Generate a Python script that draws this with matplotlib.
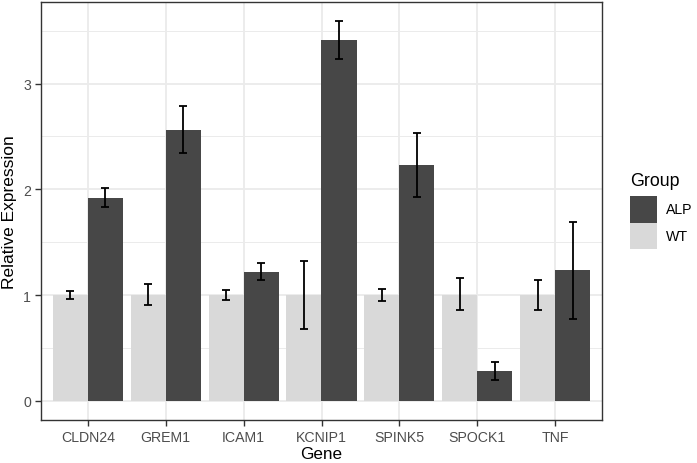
import matplotlib.pyplot as plt
from matplotlib.patches import Rectangle
import numpy as np

plt.rcParams['font.family'] = ['Liberation Sans', 'DejaVu Sans']

genes = ['CLDN24', 'GREM1', 'ICAM1', 'KCNIP1', 'SPINK5', 'SPOCK1', 'TNF']
wt_mean = [1.0, 1.0, 1.0, 1.0, 1.0, 1.0, 1.0]
wt_lo = [0.96, 0.91, 0.95, 0.68, 0.94, 0.86, 0.86]
wt_hi = [1.04, 1.10, 1.05, 1.32, 1.06, 1.16, 1.14]
alp_mean = [1.92, 2.56, 1.22, 3.415, 2.23, 0.28, 1.236]
alp_lo = [1.83, 2.34, 1.14, 3.23, 1.93, 0.20, 0.77]
alp_hi = [2.01, 2.79, 1.30, 3.59, 2.53, 0.37, 1.69]
groups = ['ALP', 'WT']
colors = {'ALP': '#474747', 'WT': '#D9D9D9'}

W, H = 697, 464
fig = plt.figure(figsize=(W / 100, H / 100), dpi=100)
ax = fig.add_axes([41 / W, 1 - 420.7 / H, (602 - 41) / W, (420.7 - 3.3) / H])

x = np.arange(1, len(genes) + 1)
bw = 0.45
ax.bar(x - bw / 2, wt_mean, bw, color=colors['WT'], zorder=2)
ax.bar(x + bw / 2, alp_mean, bw, color=colors['ALP'], zorder=2)

wt_err = [np.array(wt_mean) - np.array(wt_lo), np.array(wt_hi) - np.array(wt_mean)]
alp_err = [np.array(alp_mean) - np.array(alp_lo), np.array(alp_hi) - np.array(alp_mean)]
ek = dict(fmt='none', ecolor='black', elinewidth=1.3, capsize=2.9, capthick=1.3, zorder=3)
ax.errorbar(x - bw / 2, wt_mean, yerr=wt_err, **ek)
ax.errorbar(x + bw / 2, alp_mean, yerr=alp_err, **ek)

ymax = max(alp_hi)
ax.set_ylim(-0.05 * ymax, ymax * 1.05)
ax.set_xlim(0.4, len(genes) + 0.6)
ax.set_xticks(x)
ax.set_xticklabels(genes)
ax.set_yticks([0, 1, 2, 3])
ax.set_yticks([0.5, 1.5, 2.5, 3.5], minor=True)
ax.grid(True, which='major', color='#EBEBEB', linewidth=1.3, zorder=0)
ax.grid(True, which='minor', axis='y', color='#EBEBEB', linewidth=0.7, zorder=0)
ax.set_axisbelow(True)
ax.tick_params(which='major', length=4.3, width=1, color='#333333', labelcolor='#4D4D4D',
               labelsize=10.2, pad=3)
ax.tick_params(which='minor', length=0)
for s in ax.spines.values():
    s.set_color('#333333')
    s.set_linewidth(1)

# axis titles placed like ggplot (centred on the panel)
fig.text((41 + 602) / 2 / W, 1 - 459.5 / H, 'Gene', fontsize=12.3, ha='center', va='baseline')
fig.text(10 / W, 1 - 212 / H, 'Relative Expression', fontsize=12.5, rotation=90,
         ha='center', va='center')

# legend
fig.text(630 / W, 1 - 181 / H, 'Group', fontsize=12.8, va='center', ha='left')
ky = 197.3
for g in groups:
    fig.add_artist(Rectangle((630 / W, 1 - (ky + 26.5) / H), 26.7 / W, 26.5 / H,
                             transform=fig.transFigure, facecolor=colors[g], edgecolor='none'))
    fig.text(665.5 / W, 1 - (ky + 13.2) / H, g, fontsize=10.2, va='center', ha='left')
    ky += 26.5

fig.savefig('out.png', dpi=100)
